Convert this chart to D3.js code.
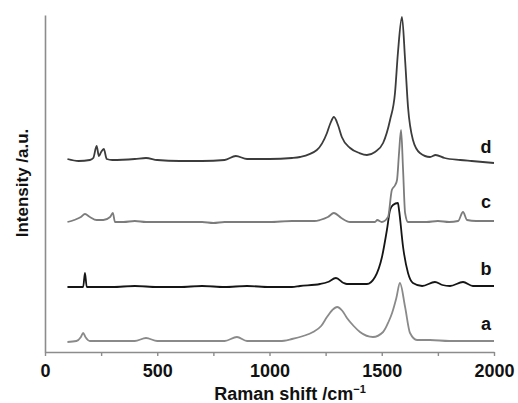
<!DOCTYPE html>
<html>
<head>
<meta charset="utf-8">
<script src="https://cdn.jsdelivr.net/npm/d3@7"></script>
<style>
    body { margin: 0; background: #fff; }
    svg { display: block; font-family: "Liberation Sans", Arial, sans-serif; }
</style>
</head>
<body>
<div id="chart"></div>
<script>
// Raman spectra, intensity in arbitrary units (stacked offsets included)
const shiftA = [100,140,160,170,180,200,300,400,450,500,600,700,800,855,900,1000,1047,1100,1150,1194,1230,1256,1280,1301,1325,1345,1375,1403,1461,1506,1530,1546,1565,1581,1604,1626,1657,1715,1800,1900,2000];
const intA   = [10,11,15,19,15,11,11,11,14,11,11,11,11,15,11,11,11,13,16,20,26,35,42,45,41,34,26,20,15,20,30,39,54,69,45,19,12,12,11,11,11];

const shiftB = [100,150,170,178,186,200,300,400,500,600,700,800,900,1000,1100,1136,1225,1260,1296,1330,1345,1434,1470,1501,1523,1537,1550,1572,1577,1595,1617,1639,1680,1737,1770,1804,1862,1906,1950,2000];
const intB   = [65,65,65,79,65,65,65,66,65,65,66,65,66,65,65,66,68,70,74,69,68,68,75,95,122,142,147,149,142,105,79,69,66,70,67,66,70,66,66,66];

const shiftC = [100,130,160,178,200,230,260,290,302,312,350,400,450,500,600,700,750,800,900,1000,1100,1200,1225,1260,1287,1320,1359,1400,1470,1480,1500,1528,1545,1560,1568,1577,1586,1595,1604,1617,1650,1700,1750,1800,1840,1862,1880,1920,2000];
const intC   = [130,132,135,138,135,132,132,135,139,130,130,131,130,130,130,130,129,130,130,130,131,131,132,135,139,134,130,130,130,132,130,135,162,167,172,199,222,182,139,130,130,130,131,130,131,140,132,131,131];

const shiftD = [100,150,200,215,230,240,250,262,275,300,400,450,500,600,700,800,850,900,1000,1100,1136,1211,1256,1270,1287,1305,1322,1359,1400,1434,1470,1506,1537,1559,1572,1590,1604,1617,1639,1670,1715,1740,1780,1850,1900,2000];
const intD   = [193,191,192,194,206,196,200,203,193,192,193,194,192,191,191,192,196,193,193,194,195,202,219,228,235,227,215,204,199,197,200,209,232,259,299,335,292,245,212,199,195,197,194,192,191,189];

const xTicks = [0,250,500,750,1000,1250,1500,1750,2000];

const spectra = [
    {label: "a", shift: shiftA, inten: intA, color: "#8a8a8a", labelY: 330},
    {label: "b", shift: shiftB, inten: intB, color: "#151515", labelY: 275},
    {label: "c", shift: shiftC, inten: intC, color: "#7c7c7c", labelY: 208},
    {label: "d", shift: shiftD, inten: intD, color: "#3c3c3c", labelY: 153}
];

const width = 518;
const height = 403;
const margin = {top: 15, right: 24, bottom: 51, left: 45};

const x = d3.scaleLinear()
    .domain([0, 2000])
    .range([margin.left, width - margin.right]);

const y = d3.scaleLinear()
    .domain([0, 337])
    .range([height - margin.bottom, margin.top]);

const svg = d3.select("#chart")
    .append("svg")
    .attr("width", width)
    .attr("height", height);

// spectra
const line = d3.line()
    .x(d => x(d[0]))
    .y(d => y(d[1]))
    .curve(d3.curveMonotoneX);

svg.append("g")
    .selectAll("path")
    .data(spectra)
    .enter().append("path")
    .attr("d", s => line(d3.zip(s.shift, s.inten)))
    .attr("fill", "none")
    .attr("stroke", s => s.color)
    .attr("stroke-width", 1.8)
    .attr("stroke-linejoin", "round");

svg.append("g")
    .selectAll("text")
    .data(spectra)
    .enter().append("text")
    .attr("x", 486)
    .attr("y", s => s.labelY)
    .attr("text-anchor", "middle")
    .style("font-size", "18px")
    .style("font-weight", "bold")
    .style("fill", "#111")
    .text(s => s.label);

// axes
const gx = svg.append("g")
    .attr("transform", `translate(0,${height - margin.bottom})`)
    .call(d3.axisBottom(x)
        .tickValues(xTicks)
        .tickSize(4)
        .tickSizeOuter(0)
        .tickFormat(d => d % 500 === 0 ? d : ""));

gx.select(".domain").attr("stroke", "#8c8c8c").attr("stroke-width", 1.6);
gx.selectAll(".tick line").attr("stroke", "#8c8c8c").attr("stroke-width", 1.4);
gx.selectAll(".tick text")
    .attr("dy", null)
    .attr("y", 25)
    .style("font-size", "18px")
    .style("font-weight", "bold")
    .style("fill", "#111")
    .style("font-family", "Liberation Sans, Arial, sans-serif");

const gy = svg.append("g")
    .attr("transform", `translate(${margin.left},0)`)
    .call(d3.axisLeft(y).tickValues([]).tickSizeOuter(0));

gy.select(".domain").attr("stroke", "#8c8c8c").attr("stroke-width", 1.6);

// axis titles
const xTitle = svg.append("text")
    .attr("x", 290)
    .attr("y", 400)
    .attr("text-anchor", "middle")
    .style("font-size", "18px")
    .style("font-weight", "bold")
    .style("fill", "#111")
    .text("Raman shift /cm");

xTitle.append("tspan")
    .attr("dy", -7)
    .style("font-size", "11px")
    .text("\u22121");

svg.append("text")
    .attr("transform", "translate(28,183) rotate(-90)")
    .attr("text-anchor", "middle")
    .style("font-size", "17px")
    .style("font-weight", "bold")
    .style("fill", "#111")
    .text("Intensity /a.u.");
</script>
</body>
</html>
